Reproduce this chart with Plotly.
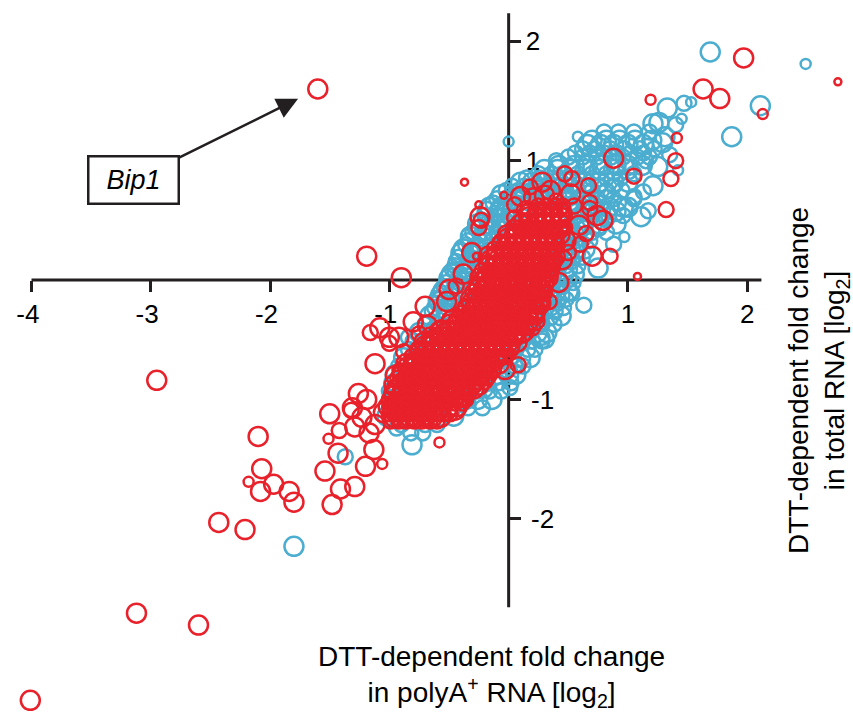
import plotly.graph_objects as go

# ---------------------------------------------------------------------------
# Data: DTT-dependent fold change, polyA+ RNA (x) vs total RNA (y), log2
# size class 1..4 encodes expression level (small -> large circle)
# ---------------------------------------------------------------------------

# individually resolved genes, polyA+ enriched set (blue)
blue_x = [1.69, 2.49, 2.11, 1.87, 1.33, 1.47, 1.53, 1.26, 1.21, 1.31, 1.29, 1.42,
          1.21, 1.13, 0.96, 1.11, 1.17, 0.97, 0.63, 0.53, 0.00, 1.35, 1.25, 1.15,
          0.30, 0.01, -0.37, -0.59, -0.81, -0.94, -0.84, -0.59, -1.37, -1.80, 0.03,
          -0.20, 0.28, 1.05, 0.88, 0.75, 1.40, 1.45, -0.45, -0.42, 0.58, 0.40]
blue_y = [1.91, 1.81, 1.46, 1.20, 1.44, 1.48, 1.49, 1.32, 1.31, 1.20, 1.15, 0.92,
          0.79, 0.74, 0.61, 0.53, 0.58, 0.36, -0.21, -0.11, 1.16, 1.05, 0.95, 1.00,
          -0.49, -0.90, -1.00, -1.11, -1.38, -1.24, -0.48, -0.17, -1.48, -2.23, -0.64,
          -0.92, -0.48, 0.70, 0.30, 0.10, 1.30, 1.35, 0.08, 0.03, 1.20, 1.00]
blue_size = [4, 2, 4, 4, 4, 3, 2, 4, 4, 4, 4, 2,
             4, 3, 4, 4, 3, 2, 3, 3, 2, 3, 4, 3,
             4, 3, 4, 3, 4, 3, 3, 4, 3, 4, 3,
             3, 3, 3, 3, 4, 3, 2, 3, 3, 2, 3]

# dense blue band, one list of x values per y row (with a size class per row)
blue_band_y = [1.24, 1.17, 1.10, 1.03, 0.96, 0.89, 0.82, 0.75, 0.68, 0.61, 0.54,
               0.47, 0.40, 0.33, 0.26, 0.19, 0.12, 0.05, -0.02, -0.09, -0.16,
               -0.23, -0.30, -0.37, -0.44, -0.51, -0.58, -0.65, -0.72, -0.79,
               -0.86, -0.93, -1.00, -1.07, -1.14, -1.21, -1.28,
               1.135, 1.065, 0.925, 0.855, 0.785, 0.715, 0.645, 0.575, 0.505,
               0.435, 0.365, 0.295, 0.225, 0.155, 0.085, 0.015, -0.055, -0.125,
               -0.195, -0.265]
blue_band_class = [3, 4, 3, 3, 4, 3, 4, 3, 3, 4, 3, 4, 3, 3, 4, 3, 3, 4, 3,
                   4, 3, 3, 4, 3, 4, 3, 3, 4, 3, 4, 3, 3, 4, 3, 4, 3, 3,
                   4, 3, 4, 3, 3, 4, 3, 4, 3, 3, 4, 3, 4, 3, 3, 4, 3, 4, 3, 3]
blue_band_x = [
    [0.80, 0.92, 1.05, 1.18],
    [0.70, 0.82, 0.93, 1.06, 1.20],
    [0.62, 0.72, 0.85, 0.97, 1.10, 1.22],
    [0.50, 0.62, 0.74, 0.86, 0.96, 1.08, 1.18],
    [0.42, 0.55, 0.66, 0.78, 0.90, 1.00, 1.12],
    [0.25, 0.36, 0.47, 0.58, 0.70, 0.82, 0.93, 1.05],
    [0.10, 0.20, 0.31, 0.42, 0.53, 0.64, 0.76, 0.88, 1.00],
    [-0.02, 0.08, 0.18, 0.28, 0.38, 0.48, 0.58, 0.70, 0.82, 0.95],
    [-0.10, 0.00, 0.10, 0.20, 0.30, 0.40, 0.50, 0.62, 0.75, 0.88, 1.05],
    [-0.16, -0.06, 0.04, 0.14, 0.50, 0.60, 0.72, 0.84, 1.00],
    [-0.20, -0.10, 0.00, 0.48, 0.58, 0.70, 0.84, 0.96],
    [-0.26, -0.16, -0.06, 0.50, 0.62, 0.76, 0.90],
    [-0.30, -0.20, -0.10, 0.46, 0.56, 0.70, 0.82],
    [-0.34, -0.24, -0.14, 0.44, 0.56, 0.68],
    [-0.38, -0.28, -0.18, 0.42, 0.52, 0.64],
    [-0.42, -0.32, -0.22, 0.40, 0.50, 0.62],
    [-0.45, -0.36, -0.26, 0.38, 0.48, 0.58],
    [-0.48, -0.38, -0.28, 0.36, 0.46, 0.55],
    [-0.52, -0.42, -0.32, 0.34, 0.44, 0.54],
    [-0.55, -0.45, -0.35, 0.30, 0.40, 0.50],
    [-0.58, -0.48, -0.38, 0.28, 0.38, 0.48],
    [-0.62, -0.52, -0.42, 0.26, 0.36, 0.46],
    [-0.66, -0.56, 0.24, 0.34, 0.44],
    [-0.70, -0.60, 0.18, 0.28, 0.38],
    [-0.75, -0.65, 0.14, 0.24, 0.32],
    [-0.80, -0.70, 0.10, 0.20, 0.28],
    [-0.84, -0.74, 0.06, 0.16, 0.22],
    [-0.88, -0.78, 0.00, 0.10, 0.18],
    [-0.92, -0.82, -0.05, 0.05, 0.12],
    [-0.95, -0.85, -0.10, 0.00, 0.06],
    [-0.98, -0.88, -0.18, -0.08, 0.02],
    [-1.00, -0.90, -0.26, -0.16, -0.06],
    [-0.95, -0.36, -0.26, -0.14],
    [-0.98, -0.46, -0.34, -0.22],
    [-1.02, -0.58, -0.46],
    [-0.90, -0.70, -0.60],
    [-0.82, -0.72],
    # interleaved rows
    [0.66, 0.77, 0.88, 1.00, 1.13],
    [0.56, 0.68, 0.80, 0.91, 1.02, 1.13],
    [0.30, 0.41, 0.52, 0.64, 0.76, 0.88, 1.00],
    [0.15, 0.26, 0.37, 0.48, 0.59, 0.70, 0.82, 0.94],
    [0.03, 0.13, 0.23, 0.33, 0.43, 0.53, 0.64, 0.76, 0.88],
    [-0.06, 0.04, 0.14, 0.24, 0.34, 0.45, 0.56, 0.68, 0.80],
    [-0.13, -0.03, 0.07, 0.17, 0.27, 0.55, 0.66, 0.78, 0.92],
    [-0.18, -0.08, 0.02, 0.12, 0.53, 0.64, 0.77, 0.90],
    [-0.23, -0.13, -0.03, 0.54, 0.68, 0.82],
    [-0.28, -0.18, -0.08, 0.51, 0.63, 0.76],
    [-0.32, -0.22, 0.50, 0.62],
    [-0.36, -0.26, 0.47, 0.58],
    [-0.40, -0.30, 0.45, 0.56],
    [-0.44, -0.34, 0.43, 0.53],
    [-0.47, -0.37, 0.41, 0.51],
    [-0.50, -0.40, 0.39, 0.49],
    [-0.54, -0.44, 0.35, 0.45],
    [-0.57, -0.47, 0.33, 0.43],
    [-0.60, -0.50, 0.31, 0.41],
    [-0.64, -0.54, 0.29, 0.39],
]

# individually resolved genes, total RNA set (red)
red_x = [-1.60, -2.95, -2.10, -2.07, -2.18, -2.08, -1.97, -1.84, -1.80, -2.43, -2.21,
         -3.12, -2.60, -4.01, -1.50, -1.42, -1.51, -1.43, -1.54, -1.41, -1.48, -1.32,
         -1.19, -0.90, -0.70, -1.26, -1.19, -1.31, -1.23, -1.29, -1.12, -1.05, -0.98,
         -1.17, -1.13, -1.20, -1.06, -1.29, -0.58, -1.12, -1.16, -1.08, -1.00, -0.92,
         -1.00, -0.50, -0.03, 0.08, -0.25, -0.23, -0.37, -0.04, 0.88, 1.41, 1.40,
         1.36, 1.05, 1.32, 0.85, 0.70, 1.08, 0.67, 0.68, 0.68, 0.74, 0.79, 0.47,
         0.53, 0.28, 0.30, 0.21, -0.24, -0.25, -0.31, -0.27, 0.05, 0.65, 0.59, 0.47,
         0.50, 0.45, 0.30, 0.34, 1.97, 2.76, 1.63, 1.77, 2.13, 1.19, -0.80, -0.75,
         -0.68, -0.88, 0.10, 0.18, 0.35, 0.40, 0.15, 0.05, 0.45, 0.55, -0.95, -0.85,
         -0.70, -0.40, -0.25, 0.20, 0.35, 0.42, 0.52, 0.60, 0.48, -0.52, -0.44,
         -0.38]
red_y = [1.60, -0.84, -1.31, -1.58, -1.69, -1.77, -1.71, -1.77, -1.86, -2.03, -2.09,
         -2.79, -2.89, -3.52, -1.12, -1.26, -1.33, -1.45, -1.60, -1.75, -1.88, -1.09,
         0.20, 0.02, -0.22, -0.95, -1.00, -1.07, -1.15, -1.23, -1.21, -1.11, -1.06,
         -1.28, -1.42, -1.56, -1.54, -1.73, -1.36, -0.70, -0.44, -0.40, -0.48, -0.48,
         -0.53, -0.08, -0.75, -0.71, 0.63, 0.50, 0.82, 0.71, 1.02, 1.19, 1.00,
         0.85, 0.87, 0.59, 0.20, 0.20, 0.03, 0.79, 0.65, 0.60, 0.54, 0.50, 0.89,
         0.85, 0.82, 0.71, 0.69, 0.53, 0.44, 0.23, 0.20, 0.63, 0.39, 0.46, 0.44,
         0.23, 0.17, -0.11, -0.18, 1.86, 1.66, 1.60, 1.52, 1.39, 1.51, -0.35, -0.45,
         -0.38, -0.60, 0.70, 0.78, 0.75, 0.66, 0.58, 0.52, 0.55, 0.62, -0.80, -1.00,
         -1.15, -1.00, -0.80, -0.40, 0.05, -0.02, 0.72, 0.30, 0.33, -0.18, -0.05,
         0.05]
red_size = [4, 4, 4, 4, 2, 4, 4, 4, 4, 4, 4,
            4, 4, 4, 4, 3, 2, 4, 4, 4, 4, 3,
            4, 4, 4, 4, 4, 4, 4, 4, 4, 4, 4,
            4, 4, 4, 2, 4, 2, 4, 3, 4, 4, 4,
            3, 4, 4, 3, 1, 3, 1, 1, 4, 2, 3,
            3, 3, 3, 3, 4, 1, 3, 3, 3, 4, 4, 3,
            3, 4, 4, 4, 4, 3, 4, 1, 3, 3, 4, 3,
            3, 4, 3, 3, 4, 1, 4, 4, 2, 2, 4, 3,
            4, 3, 4, 3, 4, 3, 4, 3, 4, 3, 4, 4,
            3, 3, 3, 3, 3, 4, 4, 3, 4, 4, 3,
            4]

# dense red core, one list of x values per y row (with a size class per row)
red_core_y = [-1.18, -1.12, -1.06, -1.00, -0.94, -0.88, -0.82, -0.76, -0.70, -0.64,
              -0.58, -0.52, -0.46, -0.40, -0.34, -0.28, -0.22, -0.16, -0.10, -0.04,
              0.02, 0.08, 0.14, 0.20, 0.26, 0.32, 0.38, 0.44, 0.50, 0.56, 0.62,
              -1.15, -1.09, -1.03, -0.97, -0.91, -0.85, -0.79, -0.73, -0.67, -0.61,
              -0.55, -0.49, -0.43, -0.37, -0.31, -0.25, -0.19, -0.13, -0.07, -0.01,
              0.05, 0.11, 0.17, 0.23, 0.29, 0.35, 0.41, 0.47, 0.53, 0.59]
red_core_class = [3, 3, 4, 3, 3, 4, 3, 3, 4, 3, 3, 4, 3, 3, 4, 3, 3, 4, 3, 3,
                  4, 3, 3, 4, 3, 3, 4, 3, 3, 4, 3,
                  4, 4, 3, 4, 4, 3, 4, 4, 3, 4, 4, 3, 4, 4, 3, 4, 4, 3, 4, 4,
                  3, 4, 4, 3, 4, 4, 3, 4, 4, 3]
red_core_x = [
    [-0.99, -0.92, -0.86, -0.79, -0.73, -0.66, -0.60],
    [-1.00, -0.94, -0.87, -0.81, -0.74, -0.68, -0.61, -0.55, -0.49],
    [-1.01, -0.95, -0.88, -0.82, -0.75, -0.69, -0.62, -0.56, -0.50, -0.43],
    [-1.00, -0.93, -0.87, -0.80, -0.74, -0.67, -0.61, -0.54, -0.48, -0.41, -0.36],
    [-0.98, -0.91, -0.85, -0.78, -0.72, -0.65, -0.59, -0.52, -0.46, -0.39, -0.33],
    [-0.96, -0.89, -0.83, -0.76, -0.70, -0.63, -0.57, -0.50, -0.44, -0.37, -0.31, -0.25],
    [-0.93, -0.87, -0.80, -0.74, -0.67, -0.61, -0.54, -0.48, -0.41, -0.35, -0.28, -0.22, -0.18],
    [-0.91, -0.84, -0.78, -0.71, -0.65, -0.58, -0.52, -0.45, -0.39, -0.32, -0.26, -0.19, -0.13],
    [-0.86, -0.80, -0.73, -0.67, -0.60, -0.54, -0.47, -0.41, -0.34, -0.28, -0.21, -0.15, -0.08],
    [-0.81, -0.75, -0.68, -0.62, -0.55, -0.49, -0.42, -0.36, -0.29, -0.23, -0.16, -0.10, -0.03],
    [-0.76, -0.70, -0.63, -0.57, -0.50, -0.44, -0.37, -0.31, -0.24, -0.18, -0.11, -0.05, 0.02],
    [-0.71, -0.65, -0.58, -0.52, -0.45, -0.39, -0.32, -0.26, -0.19, -0.13, -0.06, 0.00, 0.07],
    [-0.66, -0.60, -0.53, -0.47, -0.40, -0.34, -0.27, -0.21, -0.14, -0.08, -0.01, 0.05, 0.12],
    [-0.57, -0.51, -0.44, -0.38, -0.31, -0.25, -0.18, -0.12, -0.05, 0.01, 0.08, 0.14],
    [-0.48, -0.42, -0.35, -0.29, -0.22, -0.16, -0.09, -0.03, 0.04, 0.10, 0.17, 0.22],
    [-0.40, -0.34, -0.27, -0.21, -0.14, -0.08, -0.01, 0.05, 0.12, 0.18, 0.24],
    [-0.36, -0.30, -0.23, -0.17, -0.10, -0.04, 0.03, 0.09, 0.16, 0.22, 0.27],
    [-0.32, -0.26, -0.19, -0.13, -0.06, 0.00, 0.07, 0.13, 0.20, 0.26],
    [-0.30, -0.24, -0.17, -0.11, -0.04, 0.02, 0.09, 0.15, 0.22, 0.28],
    [-0.27, -0.21, -0.14, -0.08, -0.01, 0.05, 0.12, 0.18, 0.25, 0.31],
    [-0.24, -0.18, -0.11, -0.05, 0.02, 0.08, 0.15, 0.21, 0.28, 0.33],
    [-0.22, -0.16, -0.09, -0.03, 0.04, 0.10, 0.17, 0.23, 0.30, 0.35],
    [-0.19, -0.13, -0.06, 0.00, 0.07, 0.13, 0.20, 0.26, 0.33, 0.37],
    [-0.17, -0.11, -0.04, 0.02, 0.09, 0.15, 0.22, 0.28, 0.35, 0.39],
    [-0.12, -0.06, 0.01, 0.07, 0.14, 0.20, 0.27, 0.33, 0.39],
    [-0.07, -0.01, 0.06, 0.12, 0.19, 0.25, 0.32, 0.39],
    [-0.01, 0.05, 0.12, 0.18, 0.25, 0.31, 0.38, 0.43],
    [0.04, 0.10, 0.17, 0.23, 0.30, 0.36, 0.43],
    [0.11, 0.17, 0.24, 0.30, 0.37, 0.44],
    [0.17, 0.24, 0.30, 0.37, 0.44],
    [0.25, 0.32, 0.39, 0.45],
    # interleaved rows
    [-0.96, -0.90, -0.83, -0.77, -0.70, -0.64, -0.57],
    [-0.97, -0.91, -0.84, -0.78, -0.71, -0.65, -0.58, -0.52, -0.45],
    [-0.97, -0.91, -0.84, -0.78, -0.71, -0.65, -0.58, -0.52, -0.45, -0.39],
    [-0.96, -0.90, -0.83, -0.77, -0.70, -0.64, -0.57, -0.51, -0.44, -0.38],
    [-0.94, -0.88, -0.81, -0.75, -0.68, -0.62, -0.55, -0.49, -0.42, -0.36, -0.29],
    [-0.91, -0.85, -0.78, -0.72, -0.65, -0.59, -0.52, -0.46, -0.39, -0.33, -0.26, -0.20],
    [-0.89, -0.83, -0.76, -0.70, -0.63, -0.57, -0.50, -0.44, -0.37, -0.31, -0.24, -0.18],
    [-0.85, -0.79, -0.72, -0.66, -0.59, -0.53, -0.46, -0.40, -0.33, -0.27, -0.20, -0.14],
    [-0.80, -0.74, -0.67, -0.61, -0.54, -0.48, -0.41, -0.35, -0.28, -0.22, -0.15, -0.09],
    [-0.75, -0.69, -0.62, -0.56, -0.49, -0.43, -0.36, -0.30, -0.23, -0.17, -0.10, -0.04],
    [-0.70, -0.64, -0.57, -0.51, -0.44, -0.38, -0.31, -0.25, -0.18, -0.12, -0.05, 0.01],
    [-0.65, -0.59, -0.52, -0.46, -0.39, -0.33, -0.26, -0.20, -0.13, -0.07, 0.00, 0.06],
    [-0.58, -0.52, -0.45, -0.39, -0.32, -0.26, -0.19, -0.13, -0.06, 0.00, 0.07, 0.13],
    [-0.49, -0.43, -0.36, -0.30, -0.23, -0.17, -0.10, -0.04, 0.03, 0.09, 0.16],
    [-0.41, -0.35, -0.28, -0.22, -0.15, -0.09, -0.02, 0.04, 0.11, 0.17, 0.23],
    [-0.35, -0.29, -0.22, -0.16, -0.09, -0.03, 0.04, 0.10, 0.17, 0.23],
    [-0.31, -0.25, -0.18, -0.12, -0.05, 0.01, 0.08, 0.14, 0.21, 0.27],
    [-0.28, -0.22, -0.15, -0.09, -0.02, 0.04, 0.11, 0.17, 0.24],
    [-0.25, -0.19, -0.12, -0.06, 0.01, 0.07, 0.14, 0.20, 0.27],
    [-0.22, -0.16, -0.09, -0.03, 0.04, 0.10, 0.17, 0.23, 0.30],
    [-0.20, -0.14, -0.07, -0.01, 0.06, 0.12, 0.19, 0.25, 0.32],
    [-0.17, -0.11, -0.04, 0.02, 0.09, 0.15, 0.22, 0.28, 0.35],
    [-0.15, -0.09, -0.02, 0.04, 0.11, 0.17, 0.24, 0.30, 0.37],
    [-0.11, -0.05, 0.02, 0.08, 0.15, 0.21, 0.28, 0.34],
    [-0.06, 0.00, 0.07, 0.13, 0.20, 0.26, 0.33, 0.39],
    [-0.01, 0.05, 0.12, 0.18, 0.25, 0.31, 0.38],
    [0.05, 0.11, 0.18, 0.24, 0.31, 0.37, 0.43],
    [0.10, 0.17, 0.23, 0.30, 0.36, 0.43],
    [0.17, 0.23, 0.30, 0.36, 0.43],
    [0.24, 0.30, 0.37, 0.43],
]

# axis ticks (labels written with a plain hyphen)
x_ticks = [-4, -3, -2, -1, 1, 2]
x_tick_text = ["-4\u00a0", "-3\u00a0", "-2\u00a0", "-1\u00a0", "1", "2"]
y_ticks = [-2, -1, 1, 2]
y_tick_text = ["\u2009-2", "\u2009-1", "1", "2"]

# ---------------------------------------------------------------------------
# Styling / geometry
# ---------------------------------------------------------------------------
RED = "#E8212B"
BLUE = "#4BADCF"
INK = "#231F20"
FONT = "Liberation Sans, Arial, Helvetica, sans-serif"
SIZE_PX = {1: 7, 2: 10, 3: 15, 4: 19}

# plotting window (wide enough to hold the outlying genes)
X_RANGE = [-4.13, 2.87]
Y_RANGE = [-3.626, 2.245]
# extent of the drawn axis lines
X_LINE = [-4.0, 2.119]
Y_LINE = [-2.74, 2.235]


def flatten_rows(row_y, row_x, row_class):
    xs, ys, ss = [], [], []
    for yv, row, cls in zip(row_y, row_x, row_class):
        for xv in row:
            xs.append(xv)
            ys.append(yv)
            ss.append(SIZE_PX[cls])
    return xs, ys, ss


bx_band, by_band, bs_band = flatten_rows(blue_band_y, blue_band_x, blue_band_class)
rx_core, ry_core, rs_core = flatten_rows(red_core_y, red_core_x, red_core_class)

blue_all_x = bx_band + blue_x
blue_all_y = by_band + blue_y
blue_all_s = bs_band + [SIZE_PX[c] for c in blue_size]

red_all_x = rx_core + red_x
red_all_y = ry_core + red_y
red_all_s = rs_core + [SIZE_PX[c] for c in red_size]

fig = go.Figure()
fig.add_trace(go.Scatter(
    x=blue_all_x, y=blue_all_y, mode="markers",
    marker=dict(symbol="circle-open", size=blue_all_s, color=BLUE, opacity=1,
                line=dict(width=2.5, color=BLUE)),
    showlegend=False, hoverinfo="skip",
))
fig.add_trace(go.Scatter(
    x=red_all_x, y=red_all_y, mode="markers",
    marker=dict(symbol="circle-open", size=red_all_s, color=RED, opacity=1,
                line=dict(width=2.5, color=RED)),
    showlegend=False, hoverinfo="skip",
))

# axes cross at the origin
x_axis_pos = (0 - Y_RANGE[0]) / (Y_RANGE[1] - Y_RANGE[0])
y_axis_pos = (0 - X_RANGE[0]) / (X_RANGE[1] - X_RANGE[0])

axis_style = dict(
    showgrid=False, zeroline=False, showline=False,
    ticks="outside", ticklen=11, tickwidth=3, tickcolor=INK,
    tickfont=dict(family=FONT, size=26, color="#000000"),
    layer="below traces", anchor="free",
)

fig.update_layout(
    width=853, height=715,
    margin=dict(l=16, r=2, t=12, b=2),
    paper_bgcolor="white", plot_bgcolor="white",
    font=dict(family=FONT, color="#000000"),
    xaxis=dict(range=X_RANGE, tickvals=x_ticks, ticktext=x_tick_text,
               position=x_axis_pos, **axis_style),
    yaxis=dict(range=Y_RANGE, tickvals=y_ticks, ticktext=y_tick_text,
               side="right", position=y_axis_pos, **axis_style),
    shapes=[
        dict(type="line", xref="x", yref="y", x0=X_LINE[0], x1=X_LINE[1], y0=0, y1=0,
             line=dict(color=INK, width=3), layer="below"),
        dict(type="line", xref="x", yref="y", x0=0, x1=0, y0=Y_LINE[0], y1=Y_LINE[1],
             line=dict(color=INK, width=3), layer="below"),
    ],
    annotations=[
        dict(text="DTT-dependent fold change<br>in polyA<sup>+</sup> RNA [log<sub>2</sub>]",
             xref="paper", yref="paper", x=0.570, y=0.052,
             xanchor="center", yanchor="middle", showarrow=False,
             font=dict(family=FONT, size=28, color="#000000")),
        dict(text="DTT-dependent fold change<br>in total RNA [log<sub>2</sub>]",
             xref="paper", yref="paper", x=0.9605, y=0.4736, textangle=-90,
             xanchor="center", yanchor="middle", showarrow=False,
             font=dict(family=FONT, size=28, color="#000000")),
        dict(text="<i>Bip1</i>", x=-1.60, y=1.60, xref="x", yref="y",
             ax=-184, ay=91, axref="pixel", ayref="pixel",
             showarrow=True, arrowhead=2, arrowsize=1.7, arrowwidth=2.5,
             arrowcolor=INK, standoff=22,
             bordercolor=INK, borderwidth=2.5, borderpad=0,
             bgcolor="white", width=88, height=45,
             font=dict(family=FONT, size=27, color="#000000")),
    ],
)

fig.write_html("out.html")
